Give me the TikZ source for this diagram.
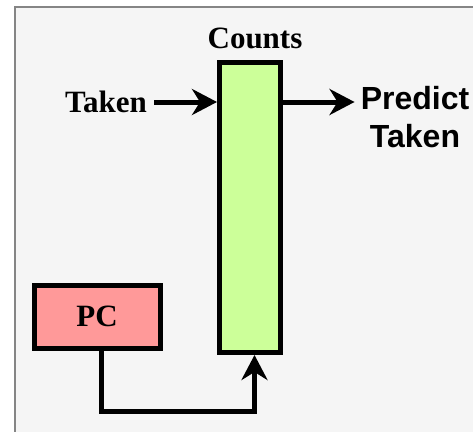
\documentclass[tikz,border=0pt]{standalone}
\usepackage{fontspec}
\setmainfont{Liberation Serif}
\newfontfamily\arialfont{Liberation Sans}
\usetikzlibrary{arrows.meta,positioning}

\definecolor{panel}{HTML}{F5F5F5}
\definecolor{frame}{HTML}{858585}
\definecolor{counter}{HTML}{CCFF99}
\definecolor{pcred}{HTML}{FF9999}

\begin{document}
\begin{tikzpicture}
  [x=1pt,y=-1pt,
   every node/.style={font=\fontsize{31}{36}\selectfont\bfseries,inner sep=0pt},
   box/.style={draw,line width=5pt},
   flow/.style={line width=5pt,-{Stealth[length=25pt,width=26pt,inset=8pt]}}]
  \useasboundingbox (0,0) rectangle (473,431);
  \clip (0,0) rectangle (473,431);
  \draw[fill=panel,draw=frame,line width=1.5pt] (15,7) rectangle (490,450);

  \node[box,fill=counter,minimum width=61pt,minimum height=290pt] (bht) at (250,207.5) {};
  \node (counts) at (255,38.5) {Counts};
  \node[box,fill=pcred,minimum width=126pt,minimum height=63pt] (pc) at (97,316.5) {PC};
  \node[anchor=east] (taken) at (147,102) {Taken};
  \node[align=center,font=\arialfont\fontsize{32}{38}\selectfont\bfseries] (predict) at (415,117) {Predict\\Taken};

  \draw[flow] ([xshift=7pt]taken.east) -- (taken.east -| bht.west);
  \draw[flow] (bht.east |- taken.east) -- ([xshift=-6pt]predict.west |- taken.east);
  \draw[flow] ([xshift=4.5pt]pc.south) -- ++(0,61) -| ([xshift=4.5pt]bht.south);
\end{tikzpicture}
\end{document}
